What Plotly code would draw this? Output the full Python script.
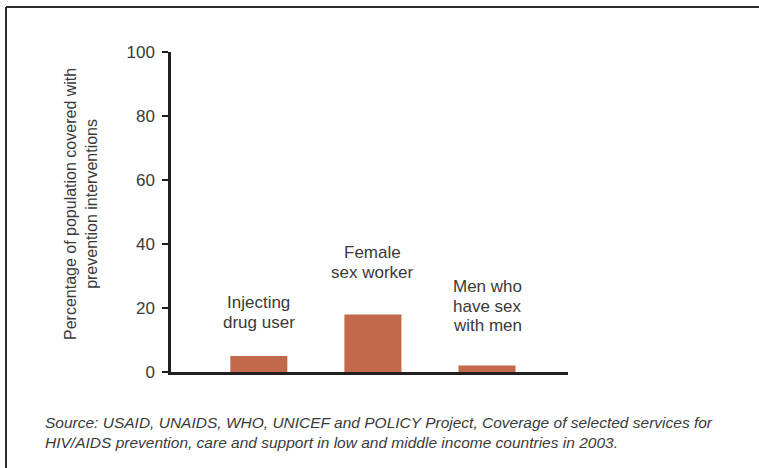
import plotly.graph_objects as go

categories = ["Injecting<br>drug user", "Female<br>sex worker", "Men who<br>have sex<br>with men"]
values = [5, 18, 2]
y_ticks = [0, 20, 40, 60, 80, 100]
y_title = "Percentage of population covered with<br>prevention interventions"
source = ("Source: USAID, UNAIDS, WHO, UNICEF and POLICY Project, Coverage of selected services for<br>"
          "HIV/AIDS prevention, care and support in low and middle income countries in 2003.")

W, H = 759, 468
L, R, T, B = 171, 191, 52, 96
pw, ph = W - L - R, H - T - B

FONT = "Liberation Sans"
TXT = "#3a3a3a"
AX = "#231f20"
BAR = "#c1694a"

xs = list(range(len(values)))
fig = go.Figure(go.Bar(x=xs, y=values, width=0.5, marker=dict(color=BAR, line=dict(width=0)),
                       hoverinfo="skip"))

# category labels above bars, one annotation per line for tight line spacing
label_gap = [34, 42, 40]
LINE = 19.5
for i, (c, v) in enumerate(zip(categories, values)):
    lines = c.split("<br>")
    n = len(lines)
    for j, ln in enumerate(lines):
        fig.add_annotation(x=i, y=v, text=ln, showarrow=False, yanchor="middle",
                           yshift=label_gap[i] + (n - 1 - j) * LINE,
                           font=dict(family=FONT, size=17, color=TXT), align="center")

def px(x):
    return (x - L) / pw

def py(y):
    return (H - B - y) / ph

# frame (top and left)
fig.add_shape(type="line", xref="paper", yref="paper", x0=px(6), x1=px(W + 5), y0=py(7), y1=py(7),
              line=dict(color="#2b2b2b", width=2))
fig.add_shape(type="line", xref="paper", yref="paper", x0=px(6), x1=px(6), y0=py(7), y1=py(H + 5),
              line=dict(color="#2b2b2b", width=2))

# y-axis title
fig.add_annotation(xref="paper", yref="paper", x=px(81), y=py(204), text=y_title, textangle=-90,
                   showarrow=False, align="center", xanchor="center", yanchor="middle",
                   font=dict(family=FONT, size=16, color=TXT))

fig.add_annotation(xref="paper", yref="paper", x=px(43), y=py(412), xanchor="left", yanchor="top",
                   text="<i>" + source + "</i>", showarrow=False, align="left",
                   font=dict(family=FONT, size=15.5, color=TXT))

fig.update_layout(
    width=W, height=H, margin=dict(l=L, r=R, t=T, b=B, pad=0),
    paper_bgcolor="white", plot_bgcolor="white", showlegend=False,
    xaxis=dict(range=[-0.77, 2.71], showgrid=False, zeroline=False, showticklabels=False,
               showline=True, linecolor=AX, linewidth=2.5, ticks=""),
    yaxis=dict(range=[0, 100], tickvals=y_ticks, showgrid=False, zeroline=False,
               showline=True, linecolor=AX, linewidth=2.5, ticks="outside", ticklen=6,
               tickwidth=2, tickcolor=AX, ticklabelstandoff=4,
               tickfont=dict(family=FONT, size=17, color=TXT)),
)

fig.write_html("out.html", config={"displayModeBar": False},
               post_script="document.body.style.margin='0';document.body.style.overflow='hidden';")
